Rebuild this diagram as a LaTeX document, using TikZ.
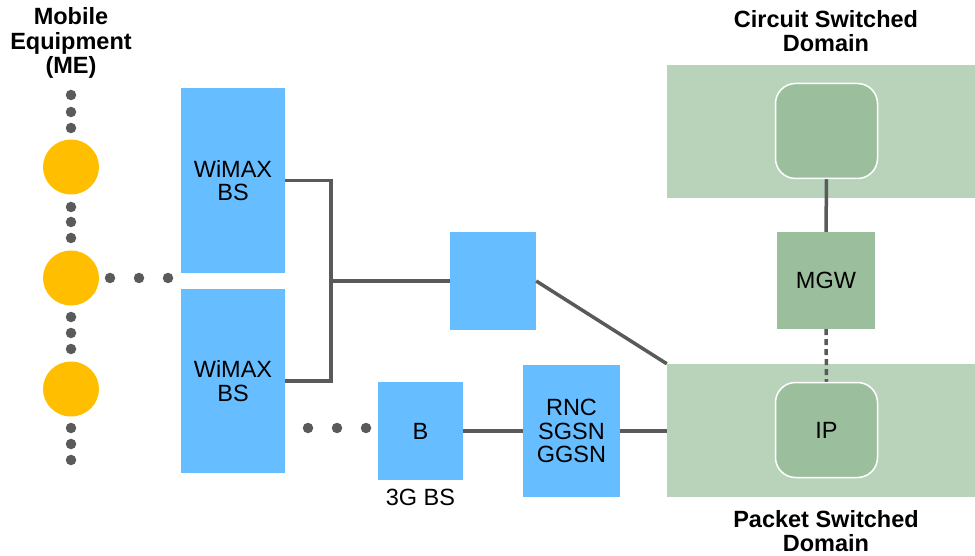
\documentclass[tikz,border=0pt]{standalone}
\usepackage{fontspec}
\setmainfont{Liberation Sans}
\usepackage{tikz}
\usetikzlibrary{arrows,shapes}
\definecolor{bsblue}{HTML}{66BDFF}
\definecolor{meyellow}{HTML}{FFBE00}
\definecolor{domgreen}{HTML}{B9D3BA}
\definecolor{nodegreen}{HTML}{9BBF9C}
\definecolor{linegray}{HTML}{5A5A5A}
\tikzstyle{me}=[ellipse,fill=meyellow,minimum width=56pt,minimum height=55pt,inner sep=0pt]
\tikzstyle{dot}=[circle,fill=linegray,minimum size=10.5pt,inner sep=0pt]
\tikzstyle{box}=[rectangle,fill=bsblue,inner sep=0pt,align=center,font=\fontsize{23.5}{23.5}\selectfont]
\tikzstyle{netdom}=[rectangle,fill=domgreen,inner sep=0pt]
\tikzstyle{core}=[rectangle,fill=nodegreen,inner sep=0pt,align=center,font=\fontsize{23.5}{23.5}\selectfont]
\tikzstyle{heading}=[align=center,font=\bfseries\fontsize{23.5}{24.5}\selectfont]
\tikzstyle{edge} = [draw,line width=3.5pt,linegray,-]

\begin{document}
\begin{tikzpicture}[x=1pt,y=-1pt]
    \useasboundingbox (0,0) rectangle (975,556);
    % Draw the domains first, they sit behind the nodes
    \node[netdom,minimum width=308pt,minimum height=133pt] (cs) at (821,131.5) {};
    \node[netdom,minimum width=308pt,minimum height=133pt] (ps) at (821,430.5) {};
    \node[heading] (cst) at (826,31) {Circuit Switched\\Domain};
    \node[heading] (pst) at (826,531) {Packet Switched\\Domain};
    \node[heading] (met) at (71,43) {Mobile\\Equipment\\(ME)};

    % Mobile equipment and the dots between them
    \foreach \pos/\name in {{(71,167)/me1}, {(71,278)/me2}, {(71,389)/me3}}
        \node[me] (\name) at \pos {};
    \foreach \pos/\name in {{(71,95)/d1}, {(71,112)/d2}, {(71,128)/d3}, {(71,207)/d4}, {(71,222)/d5}, {(71,238)/d6}, {(71,317)/d7}, {(71,333)/d8}, {(71,349)/d9}, {(71,428)/d10}, {(71,444)/d11}, {(71,460)/d12}, {(110,278)/h1}, {(139,278)/h2}, {(168,278)/h3}, {(308,428)/g1}, {(337,428)/g2}, {(366,428)/g3}}
        \node[dot] (\name) at \pos {};

    % Base stations and gateways
    \node[box,minimum width=104pt,minimum height=185pt] (ws1) at (233,180.5) {WiMAX\\BS};
    \node[box,minimum width=104pt,minimum height=184pt] (ws2) at (233,381) {WiMAX\\BS};
    \node[box,minimum width=86pt,minimum height=97pt] (asn) at (493,281) {};
    \node[box,minimum width=85pt,minimum height=98pt] (nb) at (420.5,431) {B};
    \node[below=5pt] (nbt) at (nb.south) {\fontsize{23.5}{23.5}\selectfont 3G BS};
    \node[box,minimum width=97pt,minimum height=132pt] (rnc) at (571.5,431) {RNC\\SGSN\\GGSN};

    % Core network nodes
    \node[core,rounded corners=20pt,draw=white,line width=1.5pt,minimum width=102pt,minimum height=95pt] (msc) at (826.5,131) {};
    \node[core,minimum width=98pt,minimum height=97pt] (mgw) at (826,280.5) {MGW};
    \node[core,rounded corners=20pt,draw=white,line width=1.5pt,minimum width=102pt,minimum height=95pt] (ip) at (826.5,430) {IP};

    % Connect them
    \coordinate (j) at (331,281);
    \path[edge] (ws1.east) -| (j) |- (ws2.east);
    \foreach \source/ \dest in {j/asn.west, asn.east/ps.north west, nb.east/rnc.west, msc.south/mgw.north}
        \path[edge] (\source) -- (\dest);
    \path[edge] (rnc.east) -- (rnc.east -| ps.west);
    \path[edge,dash pattern=on 6pt off 4pt] (mgw.south) -- (ip.north);
\end{tikzpicture}
\end{document}
